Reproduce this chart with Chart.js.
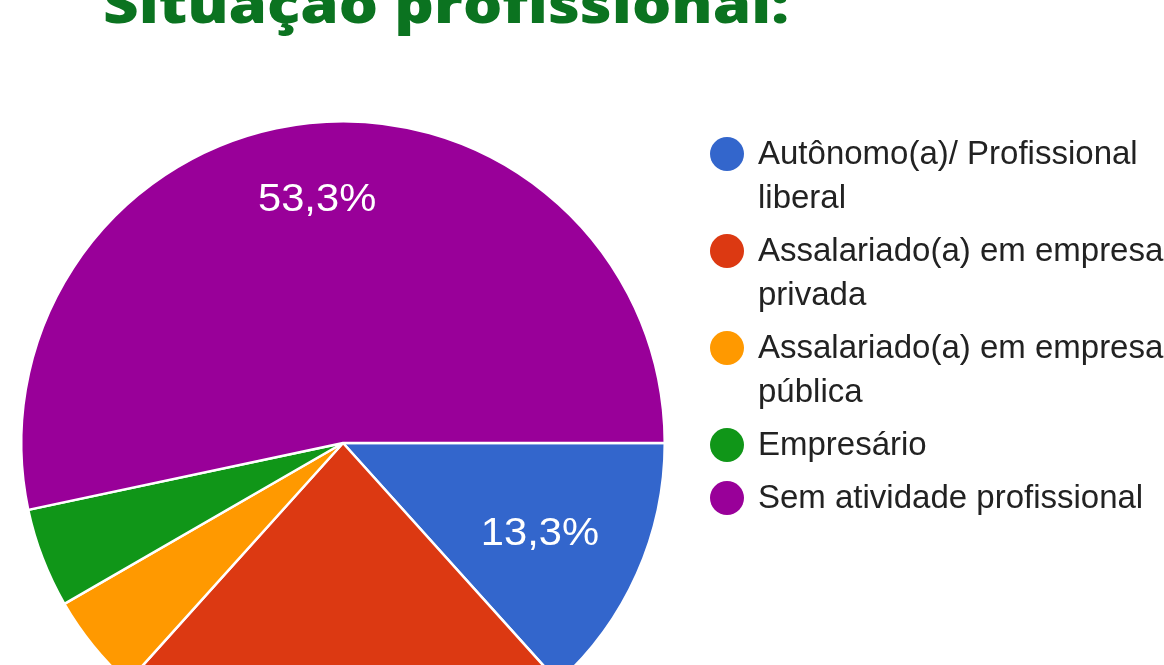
<!DOCTYPE html>
<html lang="pt-BR">
<head>
<meta charset="utf-8">
<title>Situação profissional</title>
<script src="https://cdn.jsdelivr.net/npm/chart.js@4.4.0/dist/chart.umd.min.js"></script>
<style>
  html, body { margin: 0; padding: 0; background: #fff; }
  body { width: 1164px; height: 665px; overflow: hidden; position: relative; }
  #pie { position: absolute; left: 0; top: 0; width: 1164px; height: 790px; }
  #overlay { position: absolute; left: 0; top: 0; pointer-events: none; }
  #overlay text { font-family: "Liberation Sans", Arial, sans-serif; }
  #overlay #title { font-family: "Open Sans", sans-serif; }
</style>
</head>
<body>
<canvas id="pie" width="1164" height="790"></canvas>
<svg id="overlay" width="1164" height="665" xmlns="http://www.w3.org/2000/svg">
  <text id="title" x="103" y="23" font-weight="800" font-size="53" fill="#0b7320"
        textLength="686" lengthAdjust="spacingAndGlyphs"></text>
  <g id="pct"></g>
  <g id="legend"></g>
</svg>
<script>
// answers to "Situação profissional"
const chartTitle = 'Situação profissional:';
const categories = [
    'Autônomo(a)/ Profissional liberal',
    'Assalariado(a) em empresa privada',
    'Assalariado(a) em empresa pública',
    'Empresário',
    'Sem atividade profissional'
];
const counts = [8, 14, 3, 3, 32];
const sliceColors = ['#3366cc', '#dc3912', '#ff9900', '#109618', '#990099'];

const total = counts.reduce((a, b) => a + b, 0);
const fmtPct = v => (v / total * 100).toFixed(1).replace('.', ',') + '%';

// where the % text sits along each slice (fraction of the radius)
const labelRadius = [0.670, 0.75, 0.7, 0.7, 0.77];
const labelSize = 39;

const chart = new Chart(document.getElementById('pie').getContext('2d'), {
    type: 'pie',
    data: {
        labels: categories,
        datasets: [{
            data: counts,
            backgroundColor: sliceColors,
            borderColor: '#ffffff',
            borderWidth: 2.5
        }]
    },
    options: {
        responsive: false,
        animation: false,
        devicePixelRatio: 1,
        rotation: 90,
        layout: { padding: { left: 20, top: 120, right: 498, bottom: 24 } },
        plugins: {
            legend: { display: false },
            title: { display: false },
            tooltip: { enabled: false }
        }
    }
});

const SVGNS = 'http://www.w3.org/2000/svg';
document.getElementById('title').textContent = chartTitle;

// percentage text, placed from the arcs chart.js laid out
const pctGroup = document.getElementById('pct');
chart.getDatasetMeta(0).data.forEach((arc, i) => {
    if (counts[i] / total * 100 < 10) return; // small slices have no text
    const p = arc.getProps(['x', 'y', 'startAngle', 'endAngle', 'outerRadius'], true);
    const mid = (p.startAngle + p.endAngle) / 2;
    const r = p.outerRadius * labelRadius[i];
    const t = document.createElementNS(SVGNS, 'text');
    t.setAttribute('x', p.x + Math.cos(mid) * r);
    t.setAttribute('y', p.y + Math.sin(mid) * r + labelSize * 0.358);
    t.setAttribute('text-anchor', 'middle');
    t.setAttribute('font-size', labelSize);
    t.setAttribute('fill', '#ffffff');
    t.textContent = fmtPct(counts[i]);
    pctGroup.appendChild(t);
    // the original digits are a little wider than plain Arial
    t.setAttribute('textLength', (t.getComputedTextLength() * 1.07).toFixed(1));
    t.setAttribute('lengthAdjust', 'spacingAndGlyphs');
});

// legend
const measure = document.createElement('canvas').getContext('2d');
measure.font = '33px "Liberation Sans", Arial, sans-serif';

function wrapText(str, maxW) {
    const words = str.split(' ');
    const lines = [];
    let cur = '';
    words.forEach(w => {
        const test = cur ? cur + ' ' + w : w;
        if (cur && measure.measureText(test).width > maxW) {
            lines.push(cur);
            cur = w;
        } else {
            cur = test;
        }
    });
    if (cur) lines.push(cur);
    return lines;
}

const legend = document.getElementById('legend');
let dotY = 154;
categories.forEach((cat, i) => {
    const dot = document.createElementNS(SVGNS, 'circle');
    dot.setAttribute('cx', 727);
    dot.setAttribute('cy', dotY);
    dot.setAttribute('r', 17);
    dot.setAttribute('fill', sliceColors[i]);
    legend.appendChild(dot);

    const lines = wrapText(cat, 410);
    lines.forEach((line, k) => {
        const t = document.createElementNS(SVGNS, 'text');
        t.setAttribute('x', 758);
        t.setAttribute('y', dotY + 10 + k * 44);
        t.setAttribute('font-size', 33);
        t.setAttribute('fill', '#222222');
        t.textContent = line;
        legend.appendChild(t);
    });
    dotY += (lines.length - 1) * 44 + 53;
});
</script>
</body>
</html>
